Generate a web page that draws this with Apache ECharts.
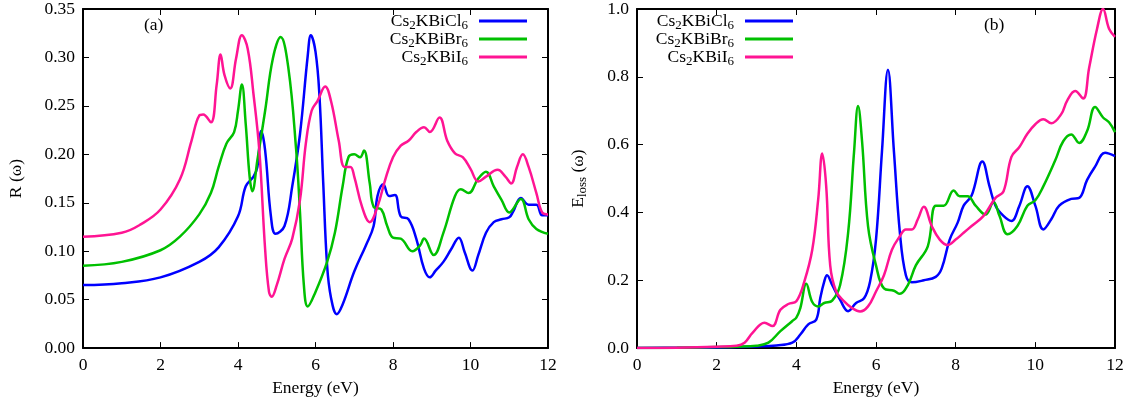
<!DOCTYPE html>
<html><head><meta charset="utf-8">
<script src="https://cdn.jsdelivr.net/npm/echarts@6/dist/echarts.min.js"></script>
<style>html,body{margin:0;padding:0;background:#fff}#c{width:1144px;height:402px}</style>
</head><body><div id="c"></div>
<script>
// ---- Data ----
const seriesNames = ['Cs2KBiCl6', 'Cs2KBiBr6', 'Cs2KBiI6'];
const xTicks = [0, 2, 4, 6, 8, 10, 12];

// Panel (a): reflectivity R(ω)
const eRCl = [0,1,2,3,3.5,4,4.2,4.4,4.5,4.6,4.7,4.85,4.97,5.2,5.4,5.6,5.8,5.88,6.0,6.1,6.2,6.3,6.4,6.55,6.7,7.0,7.3,7.5,7.6,7.75,7.9,8.05,8.2,8.4,8.6,8.8,8.95,9.1,9.3,9.5,9.7,9.85,10.05,10.2,10.4,10.6,10.8,11.0,11.1,11.3,11.5,11.7,11.85,12];
const rCl = [0.065,0.067,0.073,0.089,0.104,0.136,0.167,0.177,0.187,0.224,0.204,0.136,0.118,0.126,0.167,0.221,0.302,0.323,0.306,0.262,0.170,0.085,0.052,0.035,0.045,0.079,0.106,0.126,0.157,0.169,0.157,0.158,0.136,0.133,0.113,0.082,0.073,0.080,0.089,0.102,0.114,0.099,0.080,0.096,0.119,0.130,0.133,0.135,0.141,0.155,0.148,0.148,0.137,0.137];

const eRBr = [0,1,2,2.5,3,3.3,3.5,3.7,3.9,4.0,4.1,4.2,4.3,4.37,4.5,4.7,4.9,5.1,5.3,5.5,5.6,5.7,5.8,6.0,6.3,6.5,6.7,6.85,7.0,7.15,7.25,7.4,7.5,7.7,7.85,8.0,8.2,8.5,8.7,8.8,9.05,9.3,9.6,9.75,9.95,10.2,10.4,10.6,10.8,11.0,11.3,11.5,11.7,12];
const rBr = [0.085,0.089,0.101,0.115,0.138,0.160,0.187,0.211,0.223,0.245,0.272,0.231,0.177,0.162,0.194,0.245,0.299,0.321,0.289,0.205,0.140,0.065,0.043,0.058,0.089,0.119,0.167,0.197,0.200,0.197,0.204,0.170,0.146,0.143,0.126,0.114,0.113,0.100,0.106,0.113,0.096,0.119,0.157,0.164,0.160,0.175,0.182,0.167,0.153,0.140,0.154,0.133,0.123,0.118];

const eRI = [0,1,1.5,2,2.5,2.8,3.0,3.1,3.3,3.45,3.55,3.65,3.8,3.95,4.1,4.25,4.4,4.55,4.7,4.8,4.87,5.0,5.2,5.4,5.6,5.75,5.9,6.05,6.25,6.4,6.6,6.75,6.9,7.0,7.2,7.4,7.6,7.8,8.0,8.2,8.4,8.6,8.8,8.95,9.2,9.4,9.6,9.8,10.0,10.2,10.4,10.7,10.9,11.05,11.2,11.35,11.5,11.7,11.85,12];
const rI = [0.115,0.119,0.128,0.143,0.174,0.214,0.240,0.241,0.233,0.272,0.303,0.282,0.268,0.299,0.323,0.309,0.262,0.204,0.102,0.058,0.053,0.065,0.092,0.113,0.153,0.211,0.245,0.255,0.270,0.255,0.214,0.187,0.187,0.177,0.146,0.130,0.146,0.174,0.197,0.209,0.214,0.223,0.228,0.223,0.238,0.214,0.201,0.197,0.185,0.172,0.177,0.184,0.177,0.170,0.187,0.200,0.187,0.160,0.140,0.138];

// Panel (b): energy loss E_loss(ω)
const eLCl = [0,1,2,3,3.5,3.9,4.1,4.3,4.5,4.6,4.7,4.77,4.9,5.1,5.3,5.5,5.7,5.85,6.0,6.15,6.3,6.45,6.6,6.75,6.9,7.2,7.5,7.65,7.85,8.05,8.2,8.4,8.67,8.85,9.0,9.2,9.4,9.6,9.8,10.0,10.2,10.4,10.6,10.9,11.1,11.3,11.5,11.75,12];
const lCl = [0,0.001,0.002,0.005,0.008,0.016,0.04,0.07,0.084,0.147,0.196,0.215,0.186,0.142,0.109,0.133,0.147,0.196,0.32,0.58,0.821,0.58,0.34,0.215,0.194,0.20,0.21,0.235,0.32,0.37,0.42,0.45,0.55,0.477,0.42,0.39,0.375,0.42,0.477,0.42,0.35,0.38,0.42,0.44,0.443,0.496,0.535,0.576,0.566];

const eLBr = [0,1,2,2.5,3.0,3.3,3.6,3.9,4.0,4.1,4.25,4.4,4.55,4.7,4.9,5.1,5.3,5.45,5.55,5.65,5.8,6.0,6.2,6.45,6.6,6.8,7.0,7.3,7.5,7.7,7.95,8.1,8.3,8.5,8.75,8.95,9.1,9.3,9.55,9.8,10.0,10.2,10.5,10.7,10.9,11.1,11.3,11.5,11.7,11.85,12];
const lBr = [0,0.001,0.003,0.004,0.007,0.016,0.05,0.08,0.09,0.118,0.19,0.136,0.123,0.133,0.14,0.186,0.34,0.58,0.714,0.61,0.36,0.244,0.176,0.169,0.16,0.186,0.244,0.30,0.42,0.42,0.465,0.448,0.448,0.42,0.394,0.43,0.39,0.336,0.36,0.42,0.436,0.477,0.554,0.61,0.63,0.605,0.64,0.711,0.68,0.666,0.637];

const eLI = [0,1,2,2.5,2.7,2.9,3.2,3.4,3.6,3.8,4.0,4.2,4.4,4.55,4.65,4.75,4.85,5.0,5.2,5.4,5.6,5.8,6.0,6.2,6.4,6.6,6.75,6.9,7.05,7.2,7.4,7.6,7.8,8.0,8.2,8.4,8.7,9.0,9.2,9.4,9.6,9.8,10.0,10.2,10.4,10.65,10.8,11.0,11.2,11.35,11.55,11.7,11.85,12];
const lI = [0,0.001,0.004,0.007,0.016,0.045,0.075,0.065,0.113,0.13,0.138,0.196,0.29,0.44,0.574,0.477,0.244,0.167,0.138,0.118,0.108,0.123,0.167,0.215,0.29,0.33,0.35,0.35,0.38,0.417,0.36,0.32,0.304,0.32,0.34,0.36,0.39,0.443,0.462,0.564,0.593,0.632,0.66,0.675,0.663,0.69,0.73,0.758,0.736,0.826,0.942,1.0,0.942,0.918];

// ---- Styling ----
const FONT = "'Liberation Serif','DejaVu Serif','Times New Roman',serif";
const FS = 17.5;
const colors = ['#0000ff', '#00c000', '#ff1493'];
const zip = (xs, ys) => xs.map((x, i) => [x, ys[i]]);

const chart = echarts.init(document.getElementById('c'), null, {renderer: 'canvas'});

const grids = [
  {left: 83, right: 596, top: 6, bottom: 51},
  {left: 637, right: 29, top: 6, bottom: 51}
];

function xAx(gi, mirror) {
  return {
    type: 'value', gridIndex: gi, min: 0, max: 12, interval: 2,
    position: mirror ? 'top' : 'bottom',
    name: mirror ? '' : 'Energy (eV)', nameLocation: 'middle', nameGap: 27,
    nameTextStyle: {fontFamily: FONT, fontSize: FS, color: '#000'},
    axisLine: {show: true, onZero: false, lineStyle: {color: '#000', width: 2}},
    axisTick: {show: true, inside: true, length: 6, lineStyle: {color: '#000', width: 1}},
    axisLabel: {show: !mirror, fontFamily: FONT, fontSize: FS, color: '#000', margin: 8},
    splitLine: {show: false}
  };
}
function yAx(gi, mirror, max, interval, dec, name) {
  return {
    type: 'value', gridIndex: gi, min: 0, max: max, interval: interval,
    position: mirror ? 'right' : 'left',
    name: mirror ? '' : name, nameLocation: 'middle', nameGap: dec === 2 ? 58 : 48, nameRotate: 90,
    nameTextStyle: {fontFamily: FONT, fontSize: FS, color: '#000',
      rich: {n: {fontFamily: FONT, fontSize: FS, color: '#000'},
             s: {fontFamily: FONT, fontSize: 13, color: '#000', padding: [9, 0, 0, 0]}}},
    axisLine: {show: true, onZero: false, lineStyle: {color: '#000', width: 2}},
    axisTick: {show: true, inside: true, length: 6, lineStyle: {color: '#000', width: 1}},
    axisLabel: {show: !mirror, fontFamily: FONT, fontSize: FS, color: '#000', margin: 8,
      formatter: v => v.toFixed(dec)},
    splitLine: {show: false}
  };
}

function line(name, data, xi, yi, ci) {
  return {
    name: name, type: 'line', xAxisIndex: xi, yAxisIndex: yi, data: data,
    showSymbol: false, symbol: 'none', smooth: 0.4,
    lineStyle: {color: colors[ci], width: 2.5}, itemStyle: {color: colors[ci]},
    clip: true, animation: false, z: 3 + ci
  };
}

const richLegend = {
  n: {fontFamily: FONT, fontSize: FS, color: '#000'},
  s: {fontFamily: FONT, fontSize: 13, color: '#000', padding: [9, 0, 0, 0]}
};
function fmtName(name) {
  const m = name.match(/^Cs2KBi(\w+?)6$/);
  return '{n|Cs}{s|2}{n|KBi' + m[1] + '}{s|6}';
}
function legendItem(name, rightPx, topPx) {
  return {
    data: [{name: name, icon: 'rect'}], orient: 'horizontal', align: 'right', right: rightPx, top: topPx,
    itemWidth: 48, itemHeight: 3, padding: 0, selectedMode: false,
    formatter: fmtName,
    textStyle: {fontFamily: FONT, fontSize: FS, color: '#000', rich: richLegend, padding: [0, 6, 0, 0]}
  };
}
const legendRows = [12, 30, 48];
const legends = [];
seriesNames.forEach((n, i) => {
  legends.push(legendItem(n, 617, legendRows[i]));
  legends.push(legendItem(n, 351, legendRows[i]));
});

const option = {
  backgroundColor: '#fff',
  animation: false,
  textStyle: {fontFamily: FONT},
  grid: grids,
  legend: legends,
  xAxis: [xAx(0, false), xAx(0, true), xAx(1, false), xAx(1, true)],
  yAxis: [
    yAx(0, false, 0.35, 0.05, 2, 'R (ω)'), yAx(0, true, 0.35, 0.05, 2, ''),
    yAx(1, false, 1.0, 0.2, 1, '{n|E}{s|loss}{n| (ω)}'), yAx(1, true, 1.0, 0.2, 1, '')
  ],
  series: [
    line(seriesNames[0], zip(eRCl, rCl), 0, 0, 0),
    line(seriesNames[1], zip(eRBr, rBr), 0, 0, 1),
    line(seriesNames[2], zip(eRI, rI), 0, 0, 2),
    line(seriesNames[0], zip(eLCl, lCl), 2, 2, 0),
    line(seriesNames[1], zip(eLBr, lBr), 2, 2, 1),
    line(seriesNames[2], zip(eLI, lI), 2, 2, 2)
  ],
  graphic: [
    {type: 'text', left: 144, top: 16, style: {text: '(a)', font: FS + 'px ' + FONT, fill: '#000'}},
    {type: 'text', left: 984, top: 16, style: {text: '(b)', font: FS + 'px ' + FONT, fill: '#000'}}
  ]
};
chart.setOption(option);
</script>
</body></html>
